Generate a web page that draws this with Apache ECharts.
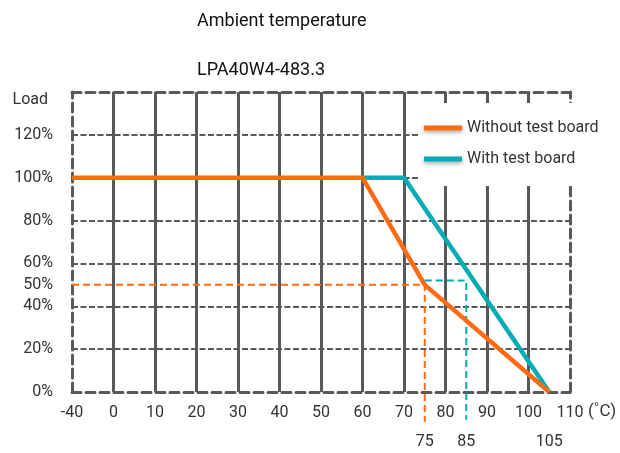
<!DOCTYPE html>
<html>
<head>
<meta charset="utf-8">
<script src="https://cdn.jsdelivr.net/npm/echarts@6/dist/echarts.min.js"></script>
<style>
  html, body { margin: 0; padding: 0; background: #fff; }
  #chart { width: 620px; height: 453px; }
</style>
</head>
<body>
<div id="chart"></div>
<script>
// derating curves, [temperature C, load %]
var withoutBoard = [[-40, 100], [60, 100], [75, 50], [105, 0]];
var withBoard = [[60, 100], [70, 100], [105, 0]];
// helper guides down to the extra labels
var guideWithout = [[-40, 50], [75, 50], [75, -14]];
var guideWith = [[75, 52], [85, 52], [85, -13]];
var extraTicks = [75, 85, 105];
var loadLabels = [0, 20, 40, 50, 60, 80, 100, 120];

var grey = '#58595b';
var orange = '#ff6a13';
var teal = '#00adb5';
var font = 'Roboto, "Noto Sans", sans-serif';

// axis is broken between -40 and 0: -40 sits one step left of 0
function pos(t) { return t < 0 ? -10 : t; }
function mapData(arr) { return arr.map(function (p) { return [pos(p[0]), p[1]]; }); }

var dashBorder = { color: grey, width: 3, type: [9, 5] };

var option = {
  animation: false,
  title: [
    { text: 'Ambient temperature', left: 192, top: 7,
      textStyle: { fontFamily: font, fontSize: 18, fontWeight: 'normal', color: '#111' } },
    { text: 'LPA40W4-483.3', left: 192, top: 56,
      textStyle: { fontFamily: font, fontSize: 18, fontWeight: 'normal', color: '#111' } }
  ],
  legend: {
    data: ['Without test board', 'With test board'],
    orient: 'vertical',
    left: 420,
    top: 103,
    padding: [17, 12, 19, 4],
    itemGap: 15,
    itemWidth: 38,
    itemHeight: 5,
    itemTextGap: 9,
    icon: 'rect',
    backgroundColor: '#fff',
    itemStyle: { shadowBlur: 4, shadowColor: 'rgba(0,0,0,0.35)', shadowOffsetY: 2 },
    textStyle: { fontFamily: font, fontSize: 16, color: '#333' }
  },
  grid: { left: 72, right: 50, top: 92, bottom: 61 },
  xAxis: [
    {
      type: 'value', min: -10, max: 110, interval: 10,
      axisLine: { show: true, onZero: false, lineStyle: dashBorder },
      axisTick: { show: false },
      splitLine: { show: true, showMinLine: false, showMaxLine: false, lineStyle: { color: grey, width: 3 } },
      axisLabel: {
        margin: 13, fontFamily: font, fontSize: 16, color: '#333',
        formatter: function (v) { return v === -10 ? '-40' : String(v); }
      },
      name: '{u|(˚C)}', nameLocation: 'end', nameGap: 18, nameMoveOverlap: false,
      nameTextStyle: {
        rich: { u: { fontFamily: font, fontSize: 17, color: '#333', padding: [40, 0, 0, 0] } }
      }
    },
    {
      type: 'value', min: -10, max: 110, position: 'top',
      axisLine: { show: true, onZero: false, lineStyle: dashBorder },
      axisTick: { show: false }, axisLabel: { show: false }, splitLine: { show: false }
    },
    {
      type: 'value', min: -10, max: 110, interval: 5, position: 'bottom', offset: 28,
      axisLine: { show: false, onZero: false }, axisTick: { show: false }, splitLine: { show: false },
      axisLabel: {
        margin: 14, fontFamily: font, fontSize: 16, color: '#333',
        formatter: function (v) { return extraTicks.indexOf(v) >= 0 ? String(v) : ''; }
      }
    }
  ],
  yAxis: [
    {
      type: 'value', min: 0, max: 140, interval: 10,
      axisLine: { show: true, onZero: false, lineStyle: dashBorder },
      axisTick: { show: false },
      splitLine: { show: false },
      axisLabel: {
        margin: 19, fontFamily: font, fontSize: 16, color: '#333',
        formatter: function (v) { return loadLabels.indexOf(v) >= 0 ? v + '%' : ''; }
      },
      name: 'Load', nameLocation: 'end', nameGap: -16, nameMoveOverlap: false,
      nameTextStyle: { fontFamily: font, fontSize: 16, color: '#333', align: 'right', padding: [0, 24, 0, 0] }
    },
    {
      type: 'value', min: 0, max: 140, interval: 20, position: 'right',
      axisLine: { show: true, onZero: false, lineStyle: dashBorder },
      axisTick: { show: false }, axisLabel: { show: false },
      splitLine: { show: true, showMinLine: false, showMaxLine: false, lineStyle: { color: grey, width: 2, type: [6, 2.5] } }
    }
  ],
  series: [
    {
      name: 'guideWithout', type: 'line', data: mapData(guideWithout), clip: false, silent: true,
      symbol: 'none', lineStyle: { color: orange, width: 2, type: [7, 4] }, z: 3
    },
    {
      name: 'guideWith', type: 'line', data: mapData(guideWith), clip: false, silent: true,
      symbol: 'none', lineStyle: { color: teal, width: 2, type: [7, 4] }, z: 3
    },
    {
      name: 'With test board', type: 'line', data: mapData(withBoard), symbol: 'none',
      color: teal, lineStyle: { color: teal, width: 4.5 }, z: 4
    },
    {
      name: 'Without test board', type: 'line', data: mapData(withoutBoard), symbol: 'none',
      color: orange, lineStyle: { color: orange, width: 4.5 }, z: 5
    }
  ]
};

var myChart = echarts.init(document.getElementById('chart'));
myChart.setOption(option);
</script>
</body>
</html>
